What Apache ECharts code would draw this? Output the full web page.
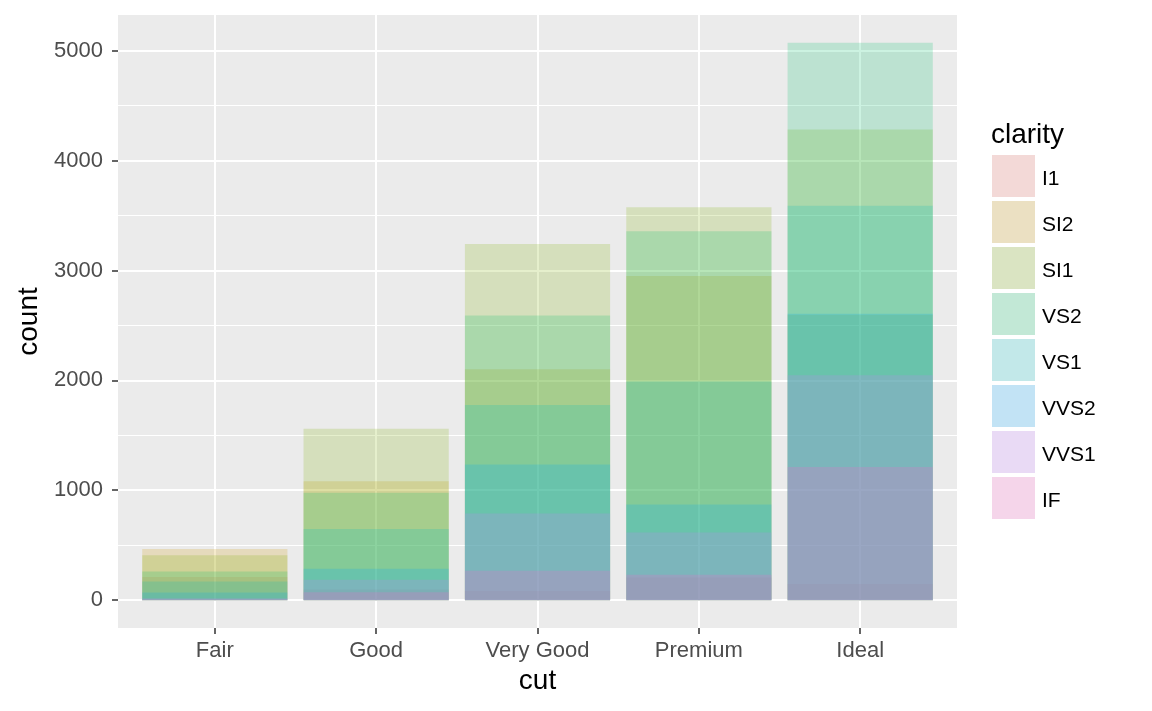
<!DOCTYPE html>
<html><head><meta charset="utf-8">
<script src="https://cdn.jsdelivr.net/npm/echarts@6/dist/echarts.min.js"></script>
<style>html,body{margin:0;padding:0;background:#fff}#c{width:1152px;height:711px}</style>
</head><body><div id="c"></div>
<script>
// Data: diamonds counts by cut (x) and clarity (series), position = identity
const cuts = ['Fair', 'Good', 'Very Good', 'Premium', 'Ideal'];
const clarity = ['I1', 'SI2', 'SI1', 'VS2', 'VS1', 'VVS2', 'VVS1', 'IF'];
const I1   = [210, 96, 84, 205, 146];
const SI2  = [466, 1081, 2100, 2949, 2598];
const SI1  = [408, 1560, 3240, 3575, 4282];
const VS2  = [261, 978, 2591, 3357, 5071];
const VS1  = [170, 648, 1775, 1989, 3589];
const VVS2 = [69, 286, 1235, 870, 2606];
const VVS1 = [17, 186, 789, 616, 2047];
const IF   = [9, 71, 268, 230, 1212];
const seriesValues = [I1, SI2, SI1, VS2, VS1, VVS2, VVS1, IF];
const yMajorTicks = [0, 1000, 2000, 3000, 4000, 5000];
const yMinorTicks = [500, 1500, 2500, 3500, 4500];
const hues = ['#F8766D', '#CD9600', '#7CAE00', '#00BE67', '#00BFC4', '#00A9FF', '#C77CFF', '#FF61CC'];
const alpha = 0.2;

function hexRgb(h){return [parseInt(h.slice(1,3),16),parseInt(h.slice(3,5),16),parseInt(h.slice(5,7),16)];}
function rgba(h){const c=hexRgb(h);return 'rgba('+c[0]+','+c[1]+','+c[2]+','+alpha+')';}
function over(h,bg){const c=hexRgb(h);return 'rgb('+c.map(v=>Math.round(bg+(v-bg)*alpha)).join(',')+')';}

const xPos = cuts.map((_, i) => i + 1);
const allMax = Math.max(...seriesValues.flat());
const yMin = -0.05 * allMax, yMax = allMax * 1.05;

const FONT = 'Liberation Sans';
const chart = echarts.init(document.getElementById('c'), null, {renderer: 'canvas'});
const series = seriesValues.map((vals, k) => ({
  name: clarity[k],
  type: 'bar',
  xAxisIndex: 0, yAxisIndex: 1,
  data: vals.map((v, i) => [xPos[i], v]),
  barWidth: '90%',
  barGap: '-100%',
  itemStyle: {color: rgba(hues[k])},
  emphasis: {disabled: true},
  animation: false
}));

chart.setOption({
  animation: false,
  textStyle: {fontFamily: FONT},
  title: {text: 'clarity', left: 991, top: 121, padding: 0, textStyle: {fontFamily: FONT, fontSize: 28, fontWeight: 'normal', color: '#000'}},
  grid: {left: 118, top: 15, width: 839, height: 613, show: true, backgroundColor: '#EBEBEB', borderWidth: 0, containLabel: false},
  legend: {
    orient: 'vertical', left: 992, top: 155, padding: 0,
    itemWidth: 43, itemHeight: 42, itemGap: 4,
    icon: 'rect', selectedMode: false,
    formatter: '{t|{name}}',
    textStyle: {fontFamily: FONT, fontSize: 21, color: '#000',
      rich: {t: {fontFamily: FONT, fontSize: 21, color: '#000', padding: [6, 0, 0, 2]}}},
    data: clarity.map((c, k) => ({name: c, itemStyle: {color: over(hues[k], 242)}}))
  },
  xAxis: {
    type: 'value', min: 0.4, max: 5.6,
    name: 'cut', nameLocation: 'middle', nameGap: 39,
    nameTextStyle: {fontFamily: FONT, fontSize: 28, color: '#000'},
    axisLine: {show: false, onZero: false},
    axisTick: {show: true, length: 6, lineStyle: {color: '#333', width: 1.5}, customValues: xPos},
    axisLabel: {customValues: xPos, margin: 12, fontSize: 22, color: '#4D4D4D', fontFamily: FONT,
      formatter: v => cuts[Math.round(v) - 1] || ''},
    splitLine: {show: true, lineStyle: {color: '#FFFFFF', width: 2}}
  },
  yAxis: [{
    type: 'value', min: yMin, max: yMax,
    axisLine: {show: false, onZero: false},
    axisTick: {show: false, customValues: yMinorTicks},
    axisLabel: {show: false, customValues: yMinorTicks},
    splitLine: {show: true, lineStyle: {color: '#FFFFFF', width: 1}}
  }, {
    type: 'value', min: yMin, max: yMax,
    name: 'count', nameLocation: 'middle', nameGap: 73, nameRotate: 90,
    nameTextStyle: {fontFamily: FONT, fontSize: 28, color: '#000'},
    position: 'left',
    axisLine: {show: false, onZero: false},
    axisTick: {show: true, length: 6, lineStyle: {color: '#333', width: 1.5}, customValues: yMajorTicks},
    axisLabel: {customValues: yMajorTicks, margin: 15, fontSize: 22, color: '#4D4D4D', fontFamily: FONT,
      formatter: v => String(v)},
    splitLine: {show: true, lineStyle: {color: '#FFFFFF', width: 2}}
  }],
  series: series
});
</script></body></html>
